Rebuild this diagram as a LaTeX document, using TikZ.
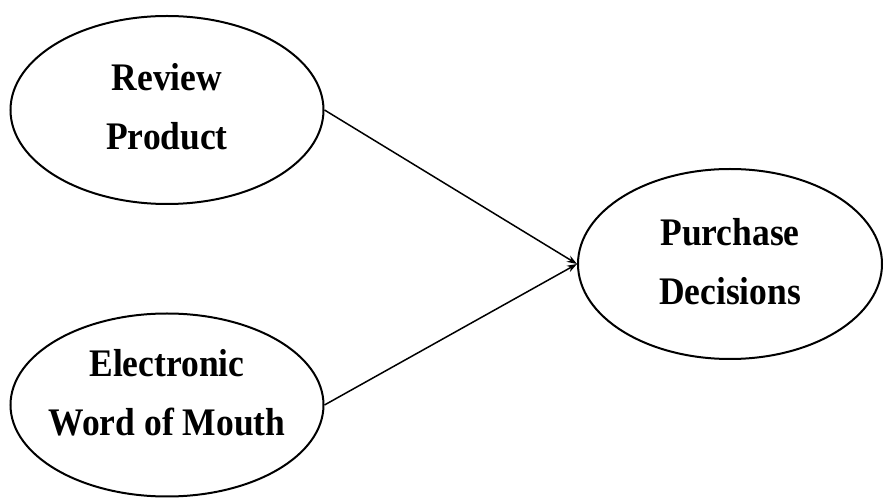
\documentclass[tikz,border=0pt]{standalone}
\usepackage{fontspec}
\usepackage{graphicx}
\setmainfont{Liberation Serif}
\usetikzlibrary{arrows.meta,shapes.geometric}
\newcommand\tallbox[1]{\scalebox{1}[1.1]{\begin{tabular}{@{}c@{}}#1\end{tabular}}}
\begin{document}
\begin{tikzpicture}[x=1pt,y=-1pt,
  oval/.style={draw=black, line width=2pt, ellipse, inner sep=0pt},
  txt/.style={align=center, inner sep=0pt, font=\fontsize{35.5}{53.5}\selectfont\bfseries},
  conn/.style={draw=black, line width=1.5pt, -{Stealth[length=10pt,width=7pt]}}]
\useasboundingbox (0,0) rectangle (884,502);
\node[oval, minimum width=313pt, minimum height=188pt] (rp) at (167,110) {};
\node[txt] (rpt) at (167,108) {\tallbox{Review\\Product}};
\node[oval, minimum width=313pt, minimum height=183pt] (ew) at (167,405) {};
\node[txt] (ewt) at (167,394) {\tallbox{Electronic\\Word of Mouth}};
\node[oval, minimum width=304pt, minimum height=190pt] (pd) at (730,264) {};
\node[txt] (pdt) at (730,263) {\tallbox{Purchase\\Decisions}};
\draw[conn] (rp.east) -- (pd.west);
\draw[conn] (ew.east) -- (pd.west);
\end{tikzpicture}
\end{document}
